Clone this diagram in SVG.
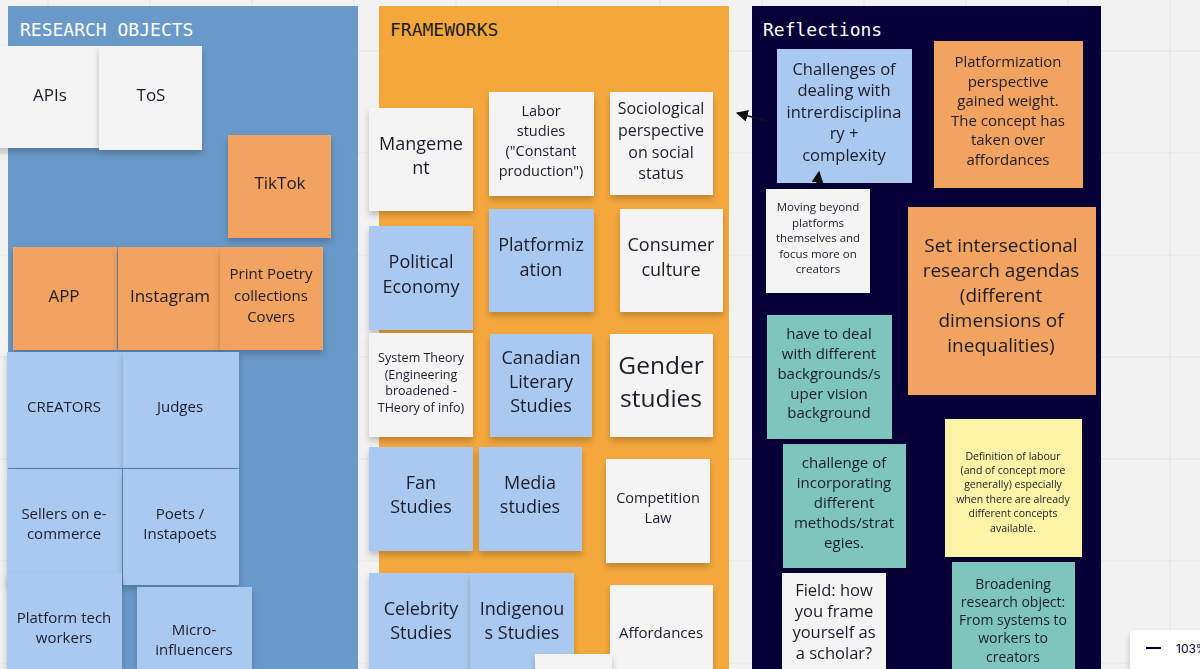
<svg xmlns="http://www.w3.org/2000/svg" width="1200" height="669" viewBox="0 0 1200 669">
<defs>
<style>
.bg{fill:#f2f2f2}
.grid{stroke:#e4e4e4;stroke-width:1}
.ftitle{font-family:"DejaVu Sans Mono","Liberation Mono",monospace;font-size:18px}
.n{filter:url(#sh)}
.w{fill:#f4f4f4}
.b{fill:#a9c9f0}
.o{fill:#f2a35e}
.tl{fill:#7ec5bd}
.y{fill:#fbf4a7}
.t{font-family:"Open Sans","Noto Sans",sans-serif;fill:#1d1d2b;text-anchor:middle}
.conn{stroke:#111;stroke-width:1.5;fill:none}
</style>
<filter id="sh" x="-10%" y="-10%" width="120%" height="130%">
<feDropShadow dx="0" dy="4" stdDeviation="3" flood-color="#000" flood-opacity="0.22"/>
</filter>
<marker id="ah" viewBox="0 0 10 10" refX="9" refY="5" markerWidth="8" markerHeight="8" orient="auto-start-reverse">
<path d="M0,0 L10,5 L0,10 z" fill="#111"/>
</marker>
</defs>
<rect class="bg" x="0" y="0" width="1200" height="669"/>
<g id="grid" class="grid">
<path d="M48,0V669M150,0V669M252,0V669M354,0V669M456,0V669M558,0V669M660,0V669M762,0V669M864,0V669M966,0V669M1068,0V669M1170,0V669"/>
<path d="M0,51H1200M0,153H1200M0,255H1200M0,357H1200M0,459H1200M0,561H1200M0,663H1200"/>
</g>

<g id="frame-research-objects">
<rect x="8" y="6" width="350" height="680" fill="#6999c9"/>
<text class="ftitle" x="20" y="36" fill="#ffffff">RESEARCH OBJECTS</text>
</g>
<g id="frame-frameworks">
<rect x="379" y="6" width="350" height="680" fill="#f4a83c"/>
<text class="ftitle" x="390" y="36" fill="#1d1d1d">FRAMEWORKS</text>
</g>
<g id="frame-reflections">
<rect x="752" y="6" width="349" height="680" fill="#050038"/>
<text class="ftitle" x="763" y="36" fill="#ffffff">Reflections</text>
</g>

<!-- Research objects notes -->
<g id="n-apis" class="n"><rect class="w" x="-4" y="46" width="104" height="102"/><text class="t" font-size="17" x="50" y="101">APIs</text></g>
<g id="n-tos" class="n"><rect class="w" x="99" y="46" width="103" height="104"/><text class="t" font-size="17" x="151" y="101">ToS</text></g>
<g id="n-tiktok" class="n"><rect class="o" x="228" y="135" width="103" height="103"/><text class="t" font-size="17" x="280" y="189">TikTok</text></g>
<g id="n-app" class="n"><rect class="o" x="13" y="247" width="104" height="103"/><text class="t" font-size="17" x="64" y="302">APP</text></g>
<g id="n-instagram" class="n"><rect class="o" x="118" y="247" width="104" height="103"/><text class="t" font-size="17" x="170" y="302">Instagram</text></g>
<g id="n-print" class="n"><rect class="o" x="220" y="247" width="103" height="103"/><text class="t" font-size="15"><tspan x="271" y="279">Print Poetry</tspan><tspan x="271" y="301">collections</tspan><tspan x="271" y="322">Covers</tspan></text></g>
<g id="n-creators" class="n"><rect class="b" x="7" y="352" width="116" height="116"/><text class="t" font-size="15" x="64" y="412">CREATORS</text></g>
<g id="n-judges" class="n"><rect class="b" x="123" y="352" width="116" height="116"/><text class="t" font-size="15" x="180" y="412">Judges</text></g>
<g id="n-sellers" class="n"><rect class="b" x="7" y="469" width="115" height="116"/><text class="t" font-size="15"><tspan x="64" y="519">Sellers on e-</tspan><tspan x="64" y="539">commerce</tspan></text></g>
<g id="n-poets" class="n"><rect class="b" x="123" y="469" width="116" height="116"/><text class="t" font-size="15"><tspan x="180" y="519">Poets /</tspan><tspan x="180" y="539">Instapoets</tspan></text></g>
<g id="n-platform-tech" class="n"><rect class="b" x="7" y="573" width="115" height="110"/><text class="t" font-size="15"><tspan x="64" y="623">Platform tech</tspan><tspan x="64" y="643">workers</tspan></text></g>
<g id="n-micro" class="n"><rect class="b" x="137" y="587" width="115" height="100"/><text class="t" font-size="15"><tspan x="194" y="635">Micro-</tspan><tspan x="194" y="655">influencers</tspan></text></g>

<!-- Frameworks notes -->
<g id="n-mangement" class="n"><rect class="w" x="369" y="108" width="104" height="103"/><text class="t" font-size="18"><tspan x="421" y="150">Mangeme</tspan><tspan x="421" y="174">nt</tspan></text></g>
<g id="n-labor" class="n"><rect class="w" x="489" y="92" width="105" height="104"/><text class="t" font-size="14.5"><tspan x="541" y="116">Labor</tspan><tspan x="541" y="136">studies</tspan><tspan x="541" y="156">("Constant</tspan><tspan x="541" y="176">production")</tspan></text></g>
<g id="n-sociological" class="n"><rect class="w" x="610" y="92" width="103" height="103"/><text class="t" font-size="16"><tspan x="661" y="114">Sociological</tspan><tspan x="661" y="136">perspective</tspan><tspan x="661" y="158">on social</tspan><tspan x="661" y="179">status</tspan></text></g>
<g id="n-political" class="n"><rect class="b" x="369" y="226" width="104" height="104"/><text class="t" font-size="18"><tspan x="421" y="268">Political</tspan><tspan x="421" y="293">Economy</tspan></text></g>
<g id="n-platformization" class="n"><rect class="b" x="489" y="209" width="105" height="103"/><text class="t" font-size="18"><tspan x="541" y="251">Platformiz</tspan><tspan x="541" y="276">ation</tspan></text></g>
<g id="n-consumer" class="n"><rect class="w" x="620" y="209" width="103" height="103"/><text class="t" font-size="18"><tspan x="671" y="251">Consumer</tspan><tspan x="671" y="276">culture</tspan></text></g>
<g id="n-system" class="n"><rect class="w" x="369" y="333" width="104" height="104"/><text class="t" font-size="12.5"><tspan x="421" y="362">System Theory</tspan><tspan x="421" y="379">(Engineering</tspan><tspan x="421" y="395">broadened -</tspan><tspan x="421" y="412">THeory of info)</tspan></text></g>
<g id="n-canadian" class="n"><rect class="b" x="490" y="334" width="102" height="103"/><text class="t" font-size="18"><tspan x="541" y="364">Canadian</tspan><tspan x="541" y="388">Literary</tspan><tspan x="541" y="412">Studies</tspan></text></g>
<g id="n-gender" class="n"><rect class="w" x="610" y="334" width="103" height="103"/><text class="t" font-size="24.5"><tspan x="661" y="374">Gender</tspan><tspan x="661" y="407">studies</tspan></text></g>
<g id="n-fan" class="n"><rect class="b" x="369" y="447" width="104" height="104"/><text class="t" font-size="18"><tspan x="421" y="489">Fan</tspan><tspan x="421" y="513">Studies</tspan></text></g>
<g id="n-media" class="n"><rect class="b" x="479" y="447" width="103" height="104"/><text class="t" font-size="18"><tspan x="530" y="489">Media</tspan><tspan x="530" y="513">studies</tspan></text></g>
<g id="n-competition" class="n"><rect class="w" x="606" y="459" width="104" height="104"/><text class="t" font-size="14.5"><tspan x="658" y="503">Competition</tspan><tspan x="658" y="523">Law</tspan></text></g>
<g id="n-celebrity" class="n"><rect class="b" x="369" y="573" width="104" height="110"/><text class="t" font-size="18"><tspan x="421" y="615">Celebrity</tspan><tspan x="421" y="639">Studies</tspan></text></g>
<g id="n-indigenous" class="n"><rect class="b" x="470" y="573" width="104" height="110"/><text class="t" font-size="18"><tspan x="522" y="615">Indigenou</tspan><tspan x="522" y="639">s Studies</tspan></text></g>
<g id="n-affordances" class="n"><rect class="w" x="610" y="585" width="103" height="100"/><text class="t" font-size="15" x="661" y="638">Affordances</text></g>
<g id="n-blank" class="n"><rect class="w" x="535" y="654" width="77" height="30"/></g>

<!-- Reflections notes -->
<g id="n-challenges" class="n"><rect class="b" x="777" y="49" width="135" height="134"/><text class="t" font-size="16.5"><tspan x="844" y="75">Challenges of</tspan><tspan x="844" y="96">dealing with</tspan><tspan x="844" y="118">intrerdisciplina</tspan><tspan x="844" y="139">ry +</tspan><tspan x="844" y="161">complexity</tspan></text></g>
<g id="n-platform-persp" class="n"><rect class="o" x="934" y="41" width="149" height="147"/><text class="t" font-size="15"><tspan x="1008" y="67">Platformization</tspan><tspan x="1008" y="87">perspective</tspan><tspan x="1008" y="106">gained weight.</tspan><tspan x="1008" y="126">The concept has</tspan><tspan x="1008" y="145">taken over</tspan><tspan x="1008" y="165">affordances</tspan></text></g>
<g id="n-moving" class="n"><rect class="w" x="766" y="189" width="104" height="104"/><text class="t" font-size="11.5"><tspan x="818" y="211">Moving beyond</tspan><tspan x="818" y="227">platforms</tspan><tspan x="818" y="242">themselves and</tspan><tspan x="818" y="258">focus more on</tspan><tspan x="818" y="273">creators</tspan></text></g>
<g id="n-intersectional" class="n"><rect class="o" x="908" y="207" width="188" height="188"/><text class="t" font-size="19"><tspan x="1001" y="252">Set intersectional</tspan><tspan x="1001" y="277">research agendas</tspan><tspan x="1001" y="302">(different</tspan><tspan x="1001" y="327">dimensions of</tspan><tspan x="1001" y="352">inequalities)</tspan></text></g>
<g id="n-backgrounds" class="n"><rect class="tl" x="767" y="315" width="125" height="124"/><text class="t" font-size="15"><tspan x="829" y="339">have to deal</tspan><tspan x="829" y="359">with different</tspan><tspan x="829" y="379">backgrounds/s</tspan><tspan x="829" y="399">uper vision</tspan><tspan x="829" y="418">background</tspan></text></g>
<g id="n-methods" class="n"><rect class="tl" x="783" y="444" width="123" height="124"/><text class="t" font-size="15"><tspan x="844" y="468">challenge of</tspan><tspan x="844" y="488">incorporating</tspan><tspan x="844" y="508">different</tspan><tspan x="844" y="528">methods/strat</tspan><tspan x="844" y="548">egies.</tspan></text></g>
<g id="n-labour" class="n"><rect class="y" x="945" y="419" width="137" height="138"/><text class="t" font-size="10.5"><tspan x="1013" y="460">Definition of labour</tspan><tspan x="1013" y="474">(and of concept more</tspan><tspan x="1013" y="488">generally) especially</tspan><tspan x="1013" y="503">when there are already</tspan><tspan x="1013" y="517">different concepts</tspan><tspan x="1013" y="532">available.</tspan></text></g>
<g id="n-field" class="n"><rect class="w" x="782" y="573" width="104" height="110"/><text class="t" font-size="16.5"><tspan x="834" y="596">Field: how</tspan><tspan x="834" y="617">you frame</tspan><tspan x="834" y="638">yourself as</tspan><tspan x="834" y="659">a scholar?</tspan></text></g>
<g id="n-broadening" class="n"><rect class="tl" x="952" y="562" width="123" height="120"/><text class="t" font-size="14"><tspan x="1013" y="589">Broadening</tspan><tspan x="1013" y="607">research object:</tspan><tspan x="1013" y="625">From systems to</tspan><tspan x="1013" y="643">workers to</tspan><tspan x="1013" y="662">creators</tspan></text></g>

<g id="connectors">
<path class="conn" d="M767,121 L737,113" marker-end="url(#ah)"/>
<path class="conn" d="M817,186 L819,172" marker-end="url(#ah)"/>
</g>

<g id="zoom-control">
<rect x="1130" y="630" width="80" height="45" rx="4" fill="#ffffff" filter="url(#sh)"/>
<path d="M1146,648 H1161" stroke="#050038" stroke-width="2"/>
<text x="1176" y="653" font-family="Inter,'Open Sans',sans-serif" font-size="12" fill="#050038">103%</text>
</g>
</svg>
